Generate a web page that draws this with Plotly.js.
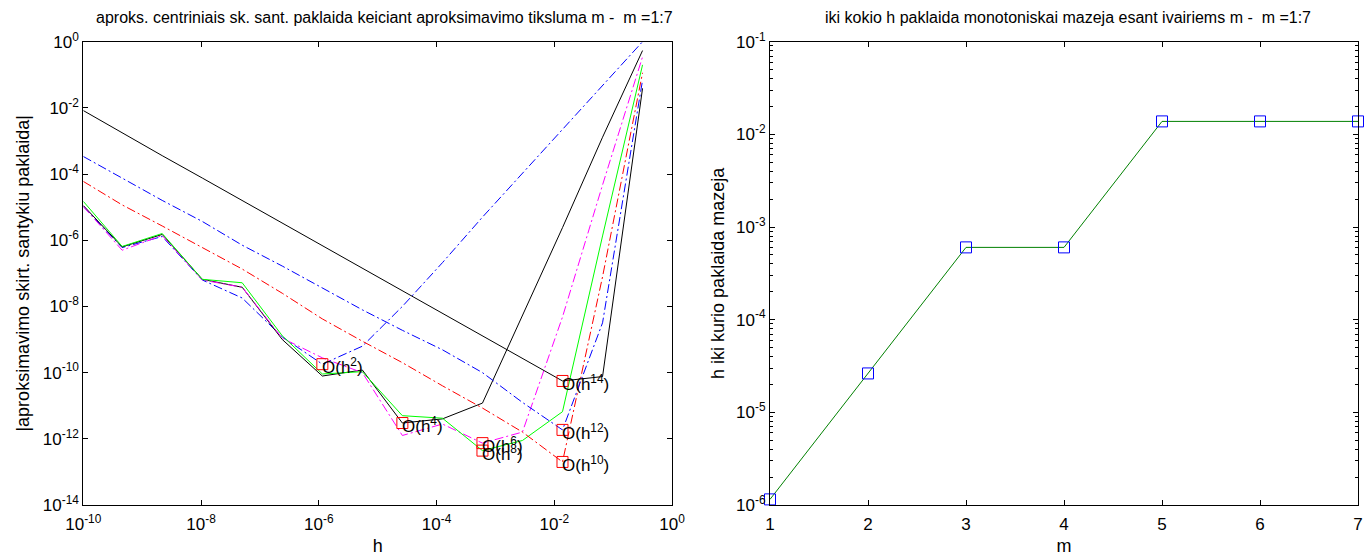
<!DOCTYPE html>
<html>
<head>
<meta charset="utf-8">
<script src="https://cdn.plot.ly/plotly-3.0.1.min.js"></script>
<style>html,body{margin:0;padding:0;background:#fff;}#plot{width:1368px;height:556px;}</style>
</head>
<body>
<div id="plot"></div>
<script>
// step sizes h
var h = [1.0e-10, 4.57e-10, 2.19e-9, 1.05e-8, 5.0e-8, 2.4e-7, 1.15e-6, 5.5e-6, 2.63e-5, 1.26e-4, 6.03e-4, 2.88e-3, 1.38e-2, 6.61e-2, 3.16e-1];
// |relative error| for m = 1..7
var err_m1 = [1.05e-5, 6.0e-7, 1.3e-6, 6.3e-8, 1.8e-8, 1.2e-9, 1.8e-10, 6.3e-10, 1.0e-8, 2.1e-7, 5.0e-6, 1.05e-4, 2.2e-3, 5.0e-2, 1.0];
var err_m2 = [1.12e-5, 6.3e-7, 1.5e-6, 6.6e-8, 3.8e-8, 1.0e-9, 7.9e-11, 1.2e-10, 3.0e-12, 4.0e-12, 1.2e-11, 5.2e-9, 2.4e-6, 1.3e-3, 0.54];
var err_m3 = [1.05e-5, 5.0e-7, 1.4e-6, 6.3e-8, 3.8e-8, 1.1e-9, 2.8e-10, 1.0e-10, 1.26e-12, 2.8e-12, 7.4e-13, 1.6e-12, 4.8e-9, 4.7e-5, 0.35];
var err_m4 = [1.5e-5, 6.5e-7, 1.6e-6, 6.6e-8, 5.2e-8, 1.3e-9, 9.1e-11, 1.07e-10, 5.0e-12, 4.2e-12, 4.4e-13, 8.9e-13, 6.6e-12, 1.35e-6, 0.2];
var err_m5 = [6.0e-5, 1.17e-5, 2.7e-6, 6.0e-7, 1.35e-7, 2.5e-8, 4.2e-9, 8.9e-10, 2.0e-10, 4.0e-11, 8.5e-12, 1.6e-12, 2.0e-13, 7.9e-8, 0.115];
var err_m6 = [3.4e-4, 7.6e-5, 1.6e-5, 3.7e-6, 7.1e-7, 1.66e-7, 3.6e-8, 7.9e-9, 1.9e-9, 4.9e-10, 1.0e-10, 1.26e-11, 1.86e-12, 3.2e-9, 6.9e-2];
var err_m7 = [8.3e-3, 1.74e-3, 3.6e-4, 7.6e-5, 1.6e-5, 3.3e-6, 6.9e-7, 1.45e-7, 3.0e-8, 6.2e-9, 1.3e-9, 2.7e-10, 5.6e-11, 7.6e-11, 3.9e-2];
// right plot: h up to which the error decreases monotonically
var mVals = [1, 2, 3, 4, 5, 6, 7];
var hStop = [1.15e-6, 2.63e-5, 6.03e-4, 6.03e-4, 1.38e-2, 1.38e-2, 1.38e-2];
var orderLabels = ['O(h<sup>2</sup>)', 'O(h<sup>4</sup>)', 'O(h<sup>6</sup>)', 'O(h<sup>8</sup>)', 'O(h<sup>10</sup>)', 'O(h<sup>12</sup>)', 'O(h<sup>14</sup>)'];
var xTickVals = [1e-10, 1e-8, 1e-6, 1e-4, 1e-2, 1];
var xTickText = ['10<sup>-10</sup>', '10<sup>-8</sup>', '10<sup>-6</sup>', '10<sup>-4</sup>', '10<sup>-2</sup>', '10<sup>0</sup>'];
var yTickVals = [1e-14, 1e-12, 1e-10, 1e-8, 1e-6, 1e-4, 1e-2, 1];
var yTickText = ['10<sup>-14</sup>', '10<sup>-12</sup>', '10<sup>-10</sup>', '10<sup>-8</sup>', '10<sup>-6</sup>', '10<sup>-4</sup>', '10<sup>-2</sup>', '10<sup>0</sup>'];
var y2TickVals = [1e-6, 1e-5, 1e-4, 1e-3, 1e-2, 1e-1];
var y2TickText = ['10<sup>-6</sup>', '10<sup>-5</sup>', '10<sup>-4</sup>', '10<sup>-3</sup>', '10<sup>-2</sup>', '10<sup>-1</sup>'];

var errs = [err_m1, err_m2, err_m3, err_m4, err_m5, err_m6, err_m7];
var colors = ['#0000ff', '#000000', '#ff00ff', '#00ff00', '#ff0000', '#0000ff', '#000000'];
var dashes = ['dashdot', 'solid', 'dashdot', 'solid', 'dashdot', 'dashdot', 'solid'];
var FONT = 'Liberation Sans, Arial, Helvetica, sans-serif';

var traces = [];
for (var i = 0; i < 7; i++) {
  traces.push({x: h, y: errs[i], type: 'scatter', mode: 'lines', xaxis: 'x', yaxis: 'y',
    line: {color: colors[i], width: 1, dash: dashes[i] === 'dashdot' ? '9px,3px,2px,3px' : 'solid'},
    showlegend: false, hoverinfo: 'skip'});
}
// markers at stop points
var sx = [], sy = [], annots = [];
for (var i = 0; i < 7; i++) {
  var idx = h.indexOf(hStop[i]);
  sx.push(h[idx]); sy.push(errs[i][idx]);
  annots.push({x: Math.log10(h[idx]), y: Math.log10(errs[i][idx]), xref: 'x', yref: 'y',
    text: orderLabels[i], showarrow: false, xanchor: 'left', yanchor: 'middle', xshift: -2, yshift: -2,
    font: {family: FONT, size: 17, color: '#000'}});
}
traces.push({x: sx, y: sy, type: 'scatter', mode: 'markers', xaxis: 'x', yaxis: 'y', cliponaxis: false,
  marker: {symbol: 'square-open', size: 11, color: '#ff0000', line: {width: 1, color: '#ff0000'}},
  showlegend: false, hoverinfo: 'skip'});
traces.push({x: mVals, y: hStop, type: 'scatter', mode: 'lines+markers', xaxis: 'x2', yaxis: 'y2', cliponaxis: false,
  line: {color: '#008000', width: 1},
  marker: {symbol: 'square-open', size: 11, color: '#0000ff', line: {width: 1, color: '#0000ff'}},
  showlegend: false, hoverinfo: 'skip'});

annots.push({x: 384/1368, y: 1 - 17/556, xref: 'paper', yref: 'paper', showarrow: false,
  text: 'aproks. centriniais sk. sant. paklaida keiciant aproksimavimo tiksluma m -  m =1:7',
  xanchor: 'center', yanchor: 'middle', font: {family: FONT, size: 16, color: '#000'}});
annots.push({x: 1068/1368, y: 1 - 17/556, xref: 'paper', yref: 'paper', showarrow: false,
  text: 'iki kokio h paklaida monotoniskai mazeja esant ivairiems m -  m =1:7',
  xanchor: 'center', yanchor: 'middle', font: {family: FONT, size: 16, color: '#000'}});

// minor tick positions for the right log axis (2..9 in every decade)
var y2Minor = [];
for (var d = 0; d < y2TickVals.length - 1; d++) {
  for (var k = 2; k <= 9; k++) y2Minor.push(y2TickVals[d] * k);
}

var tickfont = {family: FONT, size: 17, color: '#000'};
var titlefont = {family: FONT, size: 18, color: '#000'};
var common = {showline: true, linecolor: '#000', linewidth: 1, mirror: 'allticks', ticks: 'inside',
  ticklen: 5, tickcolor: '#000', showgrid: false, zeroline: false, tickfont: tickfont};

var layout = {
  width: 1368, height: 556, margin: {l: 0, r: 0, t: 0, b: 0},
  paper_bgcolor: '#fff', plot_bgcolor: '#fff', showlegend: false,
  xaxis: Object.assign({}, common, {type: 'log', range: [-10, 0], domain: [83.3/1368, 672/1368], anchor: 'y',
    tickmode: 'array', tickvals: xTickVals, ticktext: xTickText, ticklabelstandoff: 4,
    title: {text: 'h', font: titlefont, standoff: 8}}),
  yaxis: Object.assign({}, common, {type: 'log', range: [-14, 0], domain: [51/556, 514.3/556], anchor: 'x',
    tickmode: 'array', tickvals: yTickVals, ticktext: yTickText, ticklabelstandoff: 0,
    title: {text: '|aproksimavimo skirt. santykiu paklaida|', font: titlefont, standoff: 8}}),
  xaxis2: Object.assign({}, common, {type: 'linear', range: [1, 7], domain: [770/1368, 1358/1368], anchor: 'y2',
    tickmode: 'linear', tick0: 1, dtick: 1, ticklabelstandoff: 4,
    title: {text: 'm', font: titlefont, standoff: 8}}),
  yaxis2: Object.assign({}, common, {type: 'log', range: [-6, -1], domain: [51/556, 514.3/556], anchor: 'x2',
    tickmode: 'array', tickvals: y2TickVals, ticktext: y2TickText, ticklabelstandoff: 0,
    minor: {ticks: 'inside', ticklen: 3, tickcolor: '#000', tickmode: 'array', tickvals: y2Minor, showgrid: false},
    title: {text: 'h iki kurio paklaida mazeja', font: titlefont, standoff: 6}}),
  annotations: annots
};
Plotly.newPlot('plot', traces, layout, {staticPlot: true, displayModeBar: false});
</script>
</body>
</html>
